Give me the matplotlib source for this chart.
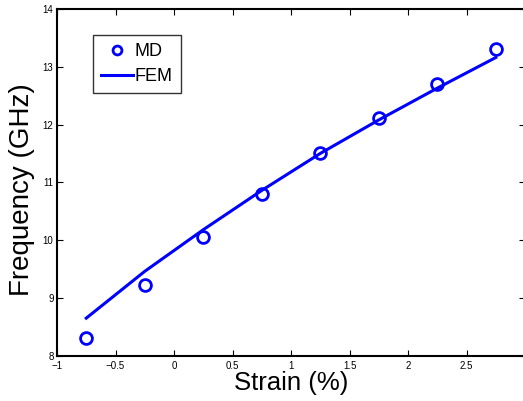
import matplotlib
matplotlib.use("Agg")
import matplotlib.pyplot as plt

strain_md = [-0.75, -0.25, 0.25, 0.75, 1.25, 1.75, 2.25, 2.75]
freq_md = [8.30, 9.22, 10.06, 10.80, 11.51, 12.11, 12.71, 13.31]

strain_fem = [-0.75, -0.25, 0.25, 0.75, 1.25, 1.75, 2.25, 2.75]
freq_fem = [8.65, 9.46, 10.18, 10.86, 11.50, 12.08, 12.63, 13.16]

xticks = [-1, -0.5, 0, 0.5, 1, 1.5, 2, 2.5, 3]
xticklabels = ["\u22121", "\u22120.5", "0", "0.5", "1", "1.5", "2", "2.5", "3"]
yticks = [8, 9, 10, 11, 12, 13, 14]

plt.rcParams['font.family'] = ['Liberation Sans', 'DejaVu Sans']

fig = plt.figure(figsize=(5.23, 4.01), dpi=100)
ax = fig.add_axes([57/523, (401-355.7)/401, 468/523, 346.7/401])

blue = '#0000ff'
ax.plot(strain_md, freq_md, linestyle='none', marker='o', markersize=8.5,
        markerfacecolor='none', markeredgecolor=blue, markeredgewidth=2.0, label='MD')
ax.plot(strain_fem, freq_fem, color=blue, linewidth=2.2, label='FEM')

ax.set_xlim(-1, 3)
ax.set_ylim(8, 14)
ax.set_xticks(xticks)
ax.set_xticklabels(xticklabels)
ax.set_yticks(yticks)
ax.tick_params(direction='in', top=True, right=True, labelsize=7, length=4, width=0.8)
ax.tick_params(axis='x', pad=4)
ax.tick_params(axis='y', pad=2.5)
for s in ax.spines.values():
    s.set_linewidth(1.5)

ax.set_xlabel('Strain (%)', fontsize=18.5, labelpad=0)
ax.set_ylabel('Frequency (GHz)', fontsize=20)
ax.yaxis.set_label_coords(-0.047, 0.48)

leg = ax.legend(loc='upper left', bbox_to_anchor=(0.077, 0.925), borderaxespad=0,
                fontsize=13, frameon=True, fancybox=False, handlelength=1.75,
                handletextpad=0.1, borderpad=0.45, labelspacing=0.45, markerscale=0.75)
leg.get_frame().set_edgecolor('black')
leg.get_frame().set_linewidth(1.0)

fig.savefig('out.png', dpi=100)
